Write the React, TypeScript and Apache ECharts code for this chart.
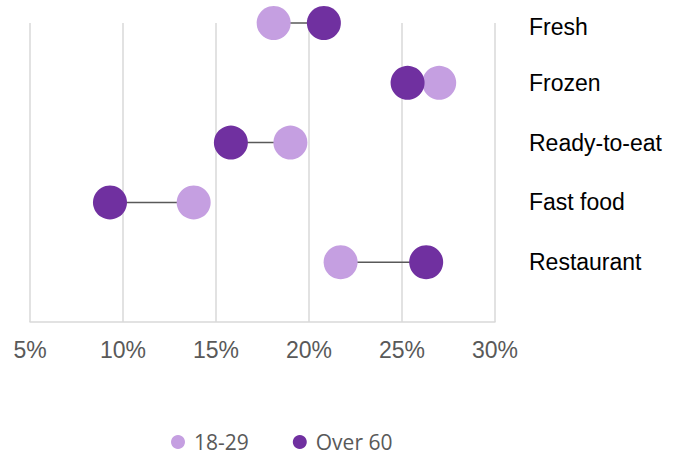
import React, { useEffect, useRef } from "react";
import * as echarts from "echarts";

const categories = ["", "Restaurant", "Fast food", "Ready-to-eat", "Frozen", "Fresh"];
const young = [null, 21.7, 13.8, 19.0, 27.0, 18.1];
const older = [null, 26.3, 9.3, 15.8, 25.3, 20.8];
const xTicks = [5, 10, 15, 20, 25, 30];
const seriesNames = ["18-29", "Over 60"];

const LIGHT = "#C59FE1";
const DARK = "#7030A0";

export default function App() {
  const ref = useRef<HTMLDivElement>(null);
  useEffect(() => {
    if (!ref.current) return;
    const chart = echarts.init(ref.current, undefined, { renderer: "svg" });
    const pairs: number[][] = [];
    for (let i = 0; i < categories.length; i++) {
      if (young[i] != null && older[i] != null) pairs.push([young[i] as number, older[i] as number, i]);
    }
    const toPts = (arr: (number | null)[]) =>
      arr.map((v, i) => (v == null ? null : [v, i])).filter((d) => d !== null);
    const lastIdx = categories.length - 1;
    chart.setOption({
      animation: false,
      grid: { left: 30, right: 180, top: 23, bottom: 133, containLabel: false },
      xAxis: {
        type: "value",
        min: xTicks[0],
        max: xTicks[xTicks.length - 1],
        interval: 5,
        axisLine: { show: true, lineStyle: { color: "#d9d9d9", width: 1.5 } },
        axisTick: { show: false },
        splitLine: { show: true, lineStyle: { color: "#d9d9d9", width: 1.5 } },
        axisLabel: {
          formatter: (v: number) => `${v}%`,
          color: "#595959",
          fontSize: 23,
          fontFamily: "Liberation Sans, Arial, sans-serif",
          margin: 16,
        },
      },
      yAxis: {
        type: "category",
        data: categories,
        boundaryGap: false,
        position: "right",
        axisLine: { show: false },
        axisTick: { show: false },
        splitLine: { show: false },
        axisLabel: {
          align: "left",
          margin: 34,
          color: "#000000",
          fontSize: 23,
          fontFamily: "Liberation Sans, Arial, sans-serif",
          interval: 0,
          formatter: (v: string, i: number) => (i === lastIdx ? `{top|${v}}` : v),
          rich: {
            top: {
              color: "#000000",
              fontSize: 23,
              fontFamily: "Liberation Sans, Arial, sans-serif",
              padding: [8, 0, 0, 0],
            },
          },
        },
      },
      legend: {
        data: seriesNames,
        left: 166,
        top: 424,
        icon: "circle",
        itemWidth: 22,
        itemHeight: 14,
        itemGap: 44,
        textStyle: {
          color: "#595959",
          fontSize: 21,
          lineHeight: 26,
          fontFamily: "Open Sans, sans-serif",
        },
      },
      series: [
        {
          type: "custom",
          silent: true,
          data: pairs,
          encode: { x: [0, 1], y: 2 },
          z: 1,
          renderItem: (params: any, api: any) => {
            const a = api.coord([api.value(0), api.value(2)]);
            const b = api.coord([api.value(1), api.value(2)]);
            return {
              type: "line",
              shape: { x1: a[0], y1: a[1], x2: b[0], y2: b[1] },
              style: { stroke: "#595959", lineWidth: 1.5 },
            };
          },
        },
        {
          name: seriesNames[0],
          type: "scatter",
          data: toPts(young),
          symbol: "circle",
          symbolSize: 34,
          itemStyle: { color: LIGHT, opacity: 1 },
          z: 2,
        },
        {
          name: seriesNames[1],
          type: "scatter",
          data: toPts(older),
          symbol: "circle",
          symbolSize: 34,
          itemStyle: { color: DARK, opacity: 1 },
          z: 3,
        },
      ],
    });
    return () => chart.dispose();
  }, []);
  return <div ref={ref} style={{ width: 675, height: 455, position: "absolute", left: 0, top: 0 }} />;
}
